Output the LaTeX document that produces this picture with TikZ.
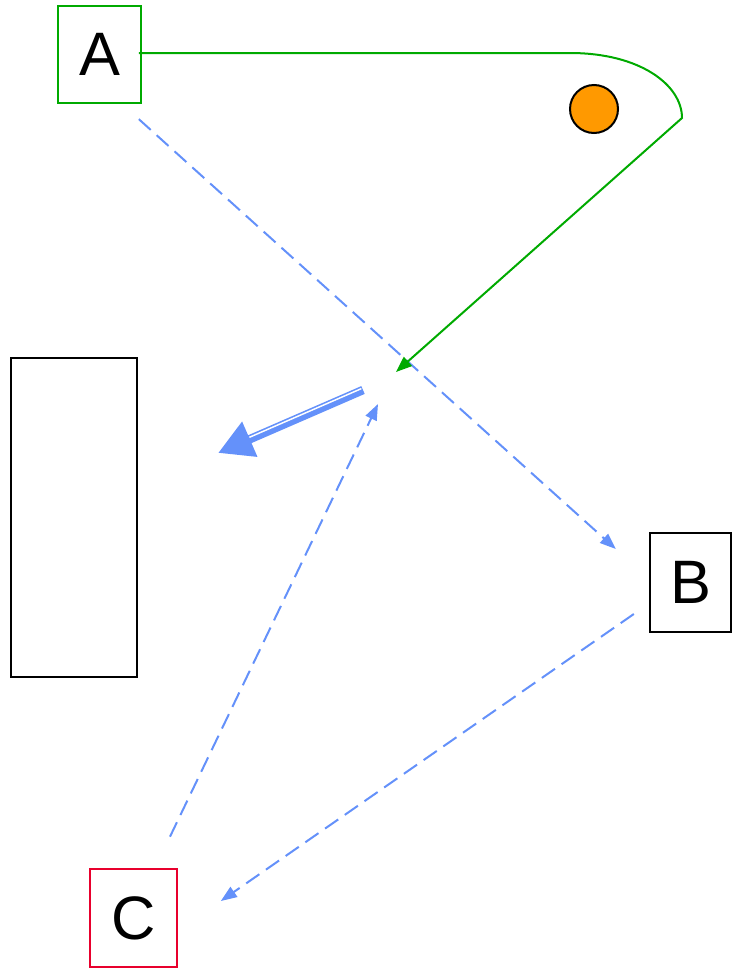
\documentclass[tikz,border=0pt]{standalone}
\usepackage{fontspec}
\setmainfont{Liberation Sans}
\usepackage{xcolor}
\usepackage{tikz}
\usetikzlibrary{arrows.meta,positioning,calc}
\definecolor{linkblue}{RGB}{100,145,250}
\definecolor{pathgreen}{RGB}{0,170,0}
\definecolor{boxred}{RGB}{232,0,45}
\definecolor{dotorange}{RGB}{255,153,0}

\begin{document}
\begin{tikzpicture}[
    x=0.75pt, y=-0.75pt,
    >=Triangle,
    letter/.style={draw, line width=1.5pt, inner sep=0pt, font=\fontsize{46}{50}\selectfont, minimum width=61pt, minimum height=74pt},
    link/.style={draw=linkblue, line width=1.5pt, dash pattern=on 12pt off 6pt, -{Triangle[length=12pt,width=9pt]}},
    route/.style={draw=pathgreen, line width=1.5pt, -{Triangle[length=12pt,width=9pt]}},
    push/.style={draw=linkblue, line width=6.4pt, -{Triangle[length=26pt,width=27pt]}}
]
\useasboundingbox (0,0) rectangle (732,968);
\node[letter, draw=pathgreen, minimum width=62pt, minimum height=73pt] (A) at (99.5,54.5) {A};
\node[letter] (B) at (690.5,582.5) {B};
\node[letter, draw=boxred, minimum width=65pt] (C) at (133.5,918) {C};
\node[draw, line width=1.5pt, minimum width=94.5pt, minimum height=239pt] (panel) at (74,517.5) {};
\node[circle, draw, line width=1.5pt, fill=dotorange, minimum size=36pt, inner sep=0pt] (dot) at (594,109) {};
\coordinate (hub) at (385,385);
\coordinate (bend) at (682,118);
\coordinate (aim) at (218,453);
% connectors
\draw[link] ([shift={(-3,15)}]A.south east) -- ([shift={(-33,-33.5)}]B.west);
\draw[link] ([shift={(-15,31.5)}]B.west) -- ([shift={(43,-17)}]C.east);
\draw[link] ([shift={(36.5,-31)}]C.north) -- ([shift={(-7,19)}]hub);
\draw[route] ([shift={(-3,-1.5)}]A.east) -- (570,53) .. controls (640,53) and (682,85) .. (bend) -- ([shift={(11,-13)}]hub);
\draw[push] ([shift={(-22,5)}]hub) -- (aim);
\draw[white, line width=1.1pt] ([shift={(-23.6,3.6)}]hub) -- (249.4,437.3);
\end{tikzpicture}
\end{document}
